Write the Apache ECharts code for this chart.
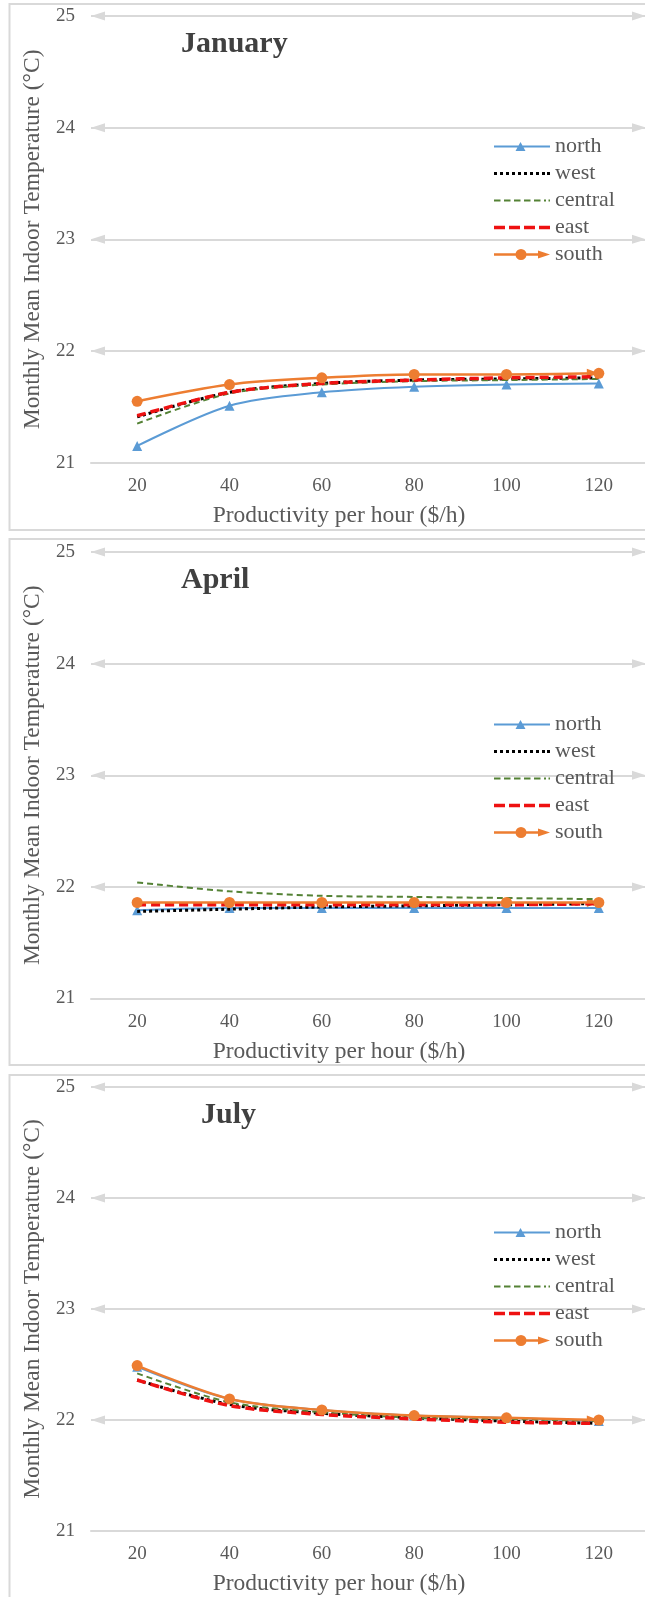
<!DOCTYPE html>
<html>
<head>
<meta charset="utf-8">
<script src="https://cdn.jsdelivr.net/npm/echarts@6/dist/echarts.min.js"></script>
<style>
  html, body { margin: 0; padding: 0; background: #ffffff; }
  #chart { width: 645px; height: 1597px; }
</style>
</head>
<body>
<div id="chart"></div>
<script>
// Productivity levels on the x axis ($/h)
const productivity = ['20', '40', '60', '80', '100', '120'];
// Temperature axis ticks (°C)
const tempTicks = [21, 22, 23, 24, 25];
const regions = ['north', 'west', 'central', 'east', 'south'];
const monthTitles = ['January', 'April', 'July'];

// January: monthly mean indoor temperature by zone
const janNorth   = [21.15, 21.51, 21.63, 21.68, 21.70, 21.71];
const janWest    = [21.41, 21.63, 21.71, 21.74, 21.75, 21.76];
const janCentral = [21.35, 21.62, 21.70, 21.73, 21.74, 21.75];
const janEast    = [21.42, 21.63, 21.71, 21.74, 21.76, 21.77];
const janSouth   = [21.55, 21.70, 21.76, 21.79, 21.79, 21.80];

// April
const aprNorth   = [21.79, 21.81, 21.81, 21.81, 21.81, 21.81];
const aprWest    = [21.78, 21.80, 21.82, 21.83, 21.84, 21.85];
const aprCentral = [22.04, 21.96, 21.92, 21.91, 21.90, 21.89];
const aprEast    = [21.84, 21.84, 21.84, 21.84, 21.84, 21.85];
const aprSouth   = [21.86, 21.86, 21.86, 21.86, 21.86, 21.86];

// July
const julNorth   = [22.48, 22.19, 22.09, 22.04, 22.02, 21.99];
const julWest    = [22.36, 22.14, 22.06, 22.02, 21.99, 21.97];
const julCentral = [22.42, 22.16, 22.07, 22.02, 22.01, 21.99];
const julEast    = [22.36, 22.13, 22.05, 22.01, 21.98, 21.97];
const julSouth   = [22.49, 22.19, 22.09, 22.04, 22.02, 22.00];

const monthData = [
  [janNorth, janWest, janCentral, janEast, janSouth],
  [aprNorth, aprWest, aprCentral, aprEast, aprSouth],
  [julNorth, julWest, julCentral, julEast, julSouth]
];

const FONT = '"Liberation Serif", "Times New Roman", serif';
const GREY_TEXT = '#595959';
const GRID_GREY = '#d9d9d9';
const GRID_LEFT = 91, GRID_WIDTH = 555;

// Panel placement (pixels)
const panels = [
  { gridTop: 16,   gridH: 446.7, frameTop: 4,    frameBottom: 530,  titleLeft: 181, titleTop: 29,   legendTop: 133 },
  { gridTop: 552,  gridH: 446.5, frameTop: 539,  frameBottom: 1065, titleLeft: 181, titleTop: 565,  legendTop: 711 },
  { gridTop: 1087, gridH: 446.3, frameTop: 1075, frameBottom: 1640, titleLeft: 201, titleTop: 1100, legendTop: 1219 }
];

// Per-zone line styling
const styles = {
  north:   { color: '#5b9bd5', width: 2,   dash: 'solid', symbol: 'triangle', symbolSize: 10 },
  west:    { color: '#000000', width: 3,   dash: [3, 3],  symbol: 'none' },
  central: { color: '#548235', width: 2,   dash: [6, 4],  symbol: 'none' },
  east:    { color: '#ee1111', width: 3.5, dash: [9, 5],  symbol: 'none' },
  south:   { color: '#ed7d31', width: 2.5, dash: 'solid', symbol: 'circle', symbolSize: 11 }
};

// Legend glyphs built from filled pieces
function rectRuns(runs, h) {
  return 'path://' + runs.map(([a, b]) => `M${a} 0 H${b} V${h} H${a} Z`).join(' ');
}
const legendIcons = {
  north: 'path://M0 5 H56 V7 H0 Z M21.5 10.5 L26.5 1.5 L31.5 10.5 Z',
  west: rectRuns([[0,3],[6,9],[12,15],[18,21],[24,27],[30,33],[36,39],[42,45],[48,51],[53,56]], 3),
  central: rectRuns([[0,6.5],[10,16.5],[20,26.5],[30,36.5],[40,46.5],[50,52],[54.5,56]], 2),
  east: rectRuns([[0,11],[15,26],[30,41],[45,56]], 3.5),
  south: 'path://M0 5.25 H22 V7.75 H0 Z M21.5 6.5 A5.5 5.5 0 1 1 32.5 6.5 A5.5 5.5 0 1 1 21.5 6.5 Z M32 5.25 H45 V7.75 H32 Z M44 2.5 L56 6.5 L44 10.5 Z'
};

const grids = [], xAxes = [], yAxes = [], titles = [], legends = [], series = [];

panels.forEach((p, g) => {
  grids.push({ left: GRID_LEFT, width: GRID_WIDTH, top: p.gridTop, height: p.gridH });

  xAxes.push({
    gridIndex: g,
    type: 'category',
    data: productivity,
    boundaryGap: true,
    axisTick: { show: false },
    axisLine: { lineStyle: { color: GRID_GREY, width: 2 } },
    axisLabel: { fontFamily: FONT, fontSize: 19, color: GREY_TEXT, margin: 14 },
    name: 'Productivity per hour ($/h)',
    nameLocation: 'middle',
    nameGap: 41,
    nameTextStyle: { fontFamily: FONT, fontSize: 23.5, color: GREY_TEXT, padding: [0, 58, 0, 0] }
  });

  yAxes.push({
    gridIndex: g,
    type: 'value',
    min: tempTicks[0],
    max: tempTicks[tempTicks.length - 1],
    interval: 1,
    axisLine: { show: false },
    axisTick: { show: false },
    splitLine: { show: true, lineStyle: { color: GRID_GREY, width: 2 } },
    axisLabel: { fontFamily: FONT, fontSize: 19, color: GREY_TEXT, margin: 16 },
    name: 'Monthly Mean Indoor Temperature (°C)',
    nameLocation: 'middle',
    nameRotate: 90,
    nameGap: 40,
    nameTextStyle: { fontFamily: FONT, fontSize: 23.5, color: GREY_TEXT }
  });

  titles.push({
    text: monthTitles[g],
    left: p.titleLeft,
    top: p.titleTop,
    padding: 0,
    textStyle: { fontFamily: FONT, fontWeight: 'bold', fontSize: 30, color: '#404040' }
  });

  legends.push({
    orient: 'vertical',
    left: 494,
    top: p.legendTop,
    padding: 0,
    itemGap: 0,
    itemWidth: 56,
    itemHeight: 11,
    selectedMode: false,
    textStyle: { fontFamily: FONT, fontSize: 22, color: GREY_TEXT, lineHeight: 27 },
    data: regions.map(r => ({ name: r, icon: legendIcons[r] }))
  });

  regions.forEach((r, k) => {
    const st = styles[r];
    const s = {
      name: r,
      type: 'line',
      xAxisIndex: g,
      yAxisIndex: g,
      data: monthData[g][k],
      smooth: 0.3,
      symbol: st.symbol,
      symbolSize: st.symbolSize || 0,
      showSymbol: st.symbol !== 'none',
      lineStyle: { color: st.color, width: st.width, type: st.dash },
      itemStyle: { color: st.color },
      emphasis: { disabled: true },
      silent: true,
      z: 2 + k
    };
    if (r === 'south') {
      // End arrow of the south line
      const last = productivity.length - 1;
      s.markPoint = {
        silent: true,
        z: 1,
        symbol: 'triangle',
        symbolRotate: -90,
        symbolSize: [9, 12],
        symbolOffset: [-6, 0],
        label: { show: false },
        itemStyle: { color: st.color },
        data: [{ coord: [productivity[last], monthData[g][k][last]] }]
      };
    }
    series.push(s);
  });
});

const chart = echarts.init(document.getElementById('chart'), null, { renderer: 'canvas' });
chart.setOption({
  animation: false,
  backgroundColor: '#ffffff',
  title: titles,
  legend: legends,
  grid: grids,
  xAxis: xAxes,
  yAxis: yAxes,
  series: series
});

// Panel frames and arrow heads at both ends of every gridline above the axis
const graphics = [];
panels.forEach((p, g) => {
  graphics.push({
    type: 'rect',
    silent: true,
    z: 0,
    shape: { x: 9.5, y: p.frameTop, width: 700, height: p.frameBottom - p.frameTop },
    style: { fill: 'none', stroke: GRID_GREY, lineWidth: 2 }
  });
  const xL = GRID_LEFT, xR = GRID_LEFT + GRID_WIDTH, len = 14, half = 4.5;
  tempTicks.slice(1).forEach(v => {
    const y = chart.convertToPixel({ yAxisIndex: g }, v);
    graphics.push({
      type: 'polygon', silent: true, z: 1,
      shape: { points: [[xL, y], [xL + len, y - half], [xL + len, y + half]] },
      style: { fill: GRID_GREY }
    });
    graphics.push({
      type: 'polygon', silent: true, z: 1,
      shape: { points: [[xR, y], [xR - len, y - half], [xR - len, y + half]] },
      style: { fill: GRID_GREY }
    });
  });
});
chart.setOption({ graphic: graphics });
</script>
</body>
</html>
